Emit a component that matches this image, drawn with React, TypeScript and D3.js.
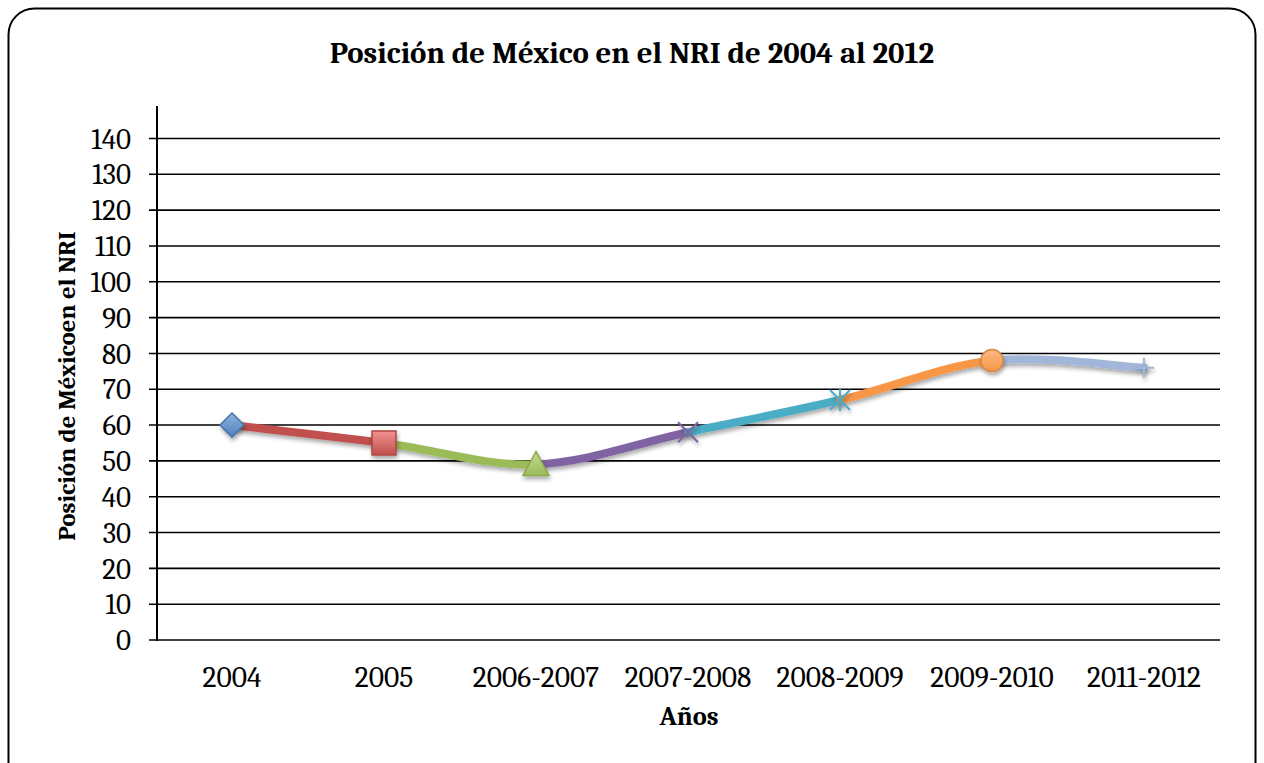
import React from "react";
import * as d3 from "d3";

const categories = ["2004", "2005", "2006-2007", "2007-2008", "2008-2009", "2009-2010", "2011-2012"];
const values = [60, 55, 49, 58, 67, 78, 76];
const yTicks = [0, 10, 20, 30, 40, 50, 60, 70, 80, 90, 100, 110, 120, 130, 140];
const pointColors = ["#4F81BD", "#C0504D", "#9BBB59", "#8064A2", "#4BACC6", "#F79646", "#A2B6D9"];
const pointLight = ["#8DB3E2", "#F0928F", "#C3DB8E", "#A58FC4", "#84CFE0", "#FBB985", "#C4D3EA"];
const markerTypes = ["diamond", "square", "triangle", "x", "star", "circle", "plus"];

const W = 1264;
const H = 763;
const left = 157;
const right = 1220;
const y0 = 640;
const yTop = 106;
const font = "'Cambria', 'Caladea', 'DejaVu Serif', 'Liberation Serif', serif";

export default function App() {
  const x = d3.scaleBand<string>().domain(categories).range([left - 1, right]).padding(0);
  const y = d3.scaleLinear().domain([0, 140]).range([y0, 138.5]);
  const pts: [number, number][] = categories.map((c, i) => [(x(c) as number) + x.bandwidth() / 2, y(values[i])]);

  const segments = pts.slice(0, -1).map((p1, i) => {
    const p0 = pts[i - 1] || p1;
    const p2 = pts[i + 1];
    const p3 = pts[i + 2] || p2;
    const c1 = [p1[0] + (p2[0] - p0[0]) / 6, p1[1] + (p2[1] - p0[1]) / 6];
    const c2 = [p2[0] - (p3[0] - p1[0]) / 6, p2[1] - (p3[1] - p1[1]) / 6];
    const path = d3.path();
    path.moveTo(p1[0], p1[1]);
    path.bezierCurveTo(c1[0], c1[1], c2[0], c2[1], p2[0], p2[1]);
    return { d: path.toString(), color: pointColors[i + 1] };
  });

  const marker = (type: string, i: number, cx: number, cy: number) => {
    const fill = `url(#grad${i})`;
    const stroke = d3.color(pointColors[i])!.darker(0.3).toString();
    switch (type) {
      case "diamond":
        return <path d={`M${cx},${cy - 12}L${cx + 12},${cy}L${cx},${cy + 12}L${cx - 12},${cy}Z`} fill={fill} stroke={stroke} strokeWidth={1.5} />;
      case "square":
        return <rect x={cx - 12} y={cy - 12} width={24} height={24} fill={fill} stroke={stroke} strokeWidth={1.5} />;
      case "triangle":
        return <path d={`M${cx},${cy - 13}L${cx + 13},${cy + 11}L${cx - 13},${cy + 11}Z`} fill={fill} stroke={stroke} strokeWidth={1.5} />;
      case "circle":
        return <circle cx={cx} cy={cy} r={11} fill={fill} stroke={stroke} strokeWidth={1.5} />;
      case "x":
        return <path d={`M${cx - 10},${cy - 10}L${cx + 10},${cy + 10}M${cx + 10},${cy - 10}L${cx - 10},${cy + 10}`} stroke={pointColors[i]} strokeWidth={2} />;
      case "star":
        return <path d={`M${cx - 10},${cy - 10}L${cx + 10},${cy + 10}M${cx + 10},${cy - 10}L${cx - 10},${cy + 10}M${cx},${cy - 11}L${cx},${cy + 11}`} stroke={pointColors[i]} strokeWidth={2} />;
      case "plus":
        return <path d={`M${cx - 10},${cy}L${cx + 10},${cy}M${cx},${cy - 10}L${cx},${cy + 10}`} stroke={pointColors[i]} strokeWidth={2} />;
    }
    return null;
  };

  return (
    <svg width={W} height={H} style={{ position: "absolute", left: 0, top: 0, background: "#fff" }}>
      <defs>
        {pointColors.map((c, i) => (
          <linearGradient key={i} id={`grad${i}`} x1="0" y1="0" x2="0" y2="1">
            <stop offset="0" stopColor={pointLight[i]} />
            <stop offset="1" stopColor={c} />
          </linearGradient>
        ))}
        <filter id="shadow" x="-50%" y="-50%" width="200%" height="200%">
          <feGaussianBlur in="SourceAlpha" stdDeviation="2" />
          <feOffset dx="1" dy="3" result="b" />
          <feComponentTransfer><feFuncA type="linear" slope="0.35" /></feComponentTransfer>
          <feMerge><feMergeNode /><feMergeNode in="SourceGraphic" /></feMerge>
        </filter>
      </defs>
      <rect x={8.5} y={8.5} width={1247} height={780} rx={26} ry={26} fill="#fff" stroke="#000" strokeWidth={2} />
      <text x={632} y={63} textAnchor="middle" fontFamily={font} fontWeight="bold" fontSize={30.8}>
        Posición de México en el NRI de 2004 al 2012
      </text>
      {yTicks.map((t) => (
        <g key={t}>
          <line x1={149} x2={right} y1={y(t)} y2={y(t)} stroke="#000" strokeWidth={1.6} />
          <text x={131} y={y(t)} dy="0.35em" textAnchor="end" fontFamily={font} fontSize={29}>{t}</text>
        </g>
      ))}
      <line x1={left} x2={left} y1={yTop} y2={y0 + 1} stroke="#000" strokeWidth={2} />
      {categories.map((c, i) => (
        <text key={c} x={pts[i][0]} y={687} textAnchor="middle" fontFamily={font} fontSize={29.5}>{c}</text>
      ))}
      <text x={689} y={725} textAnchor="middle" fontFamily={font} fontWeight="bold" fontSize={26.5}>Años</text>
      <text transform={`translate(75,386) rotate(-90)`} textAnchor="middle" fontFamily={font} fontWeight="bold" fontSize={24.8}>
        Posición de Méxicoen el NRI
      </text>
      <g filter="url(#shadow)">
        {segments.map((s, i) => (
          <path key={i} d={s.d} fill="none" stroke={s.color} strokeWidth={8} strokeLinecap="round" />
        ))}
      </g>
      <g filter="url(#shadow)">
        {pts.map((p, i) => (
          <g key={i}>{marker(markerTypes[i], i, p[0], p[1])}</g>
        ))}
      </g>
    </svg>
  );
}
